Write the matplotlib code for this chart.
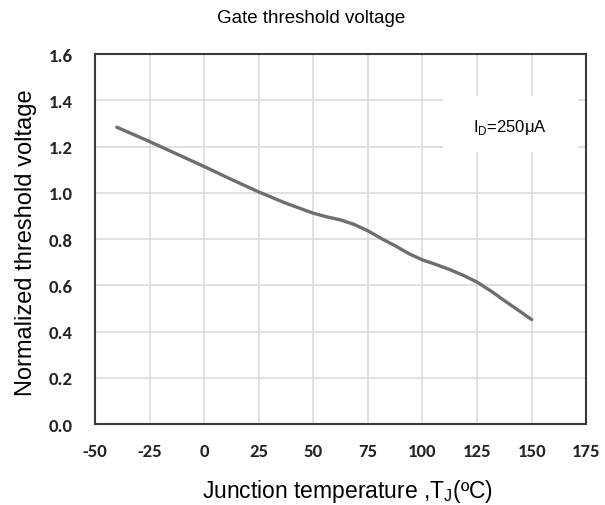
import matplotlib
matplotlib.use("Agg")
import matplotlib.pyplot as plt
from matplotlib.patches import Rectangle

# Data
temperature = [-40, -25, -12.5, 0, 12.5, 25, 37.5, 50, 56.25, 62.5, 68.75, 75, 81.25, 87.5,
               93.75, 100, 106.25, 112.5, 118.75, 125, 131.25, 137.5, 143.75, 150]
norm_vth = [1.284, 1.222, 1.168, 1.114, 1.058, 1.004, 0.955, 0.912, 0.896, 0.883, 0.863,
            0.836, 0.802, 0.771, 0.737, 0.710, 0.690, 0.668, 0.643, 0.614, 0.576, 0.534,
            0.493, 0.452]
x_ticks = [-50, -25, 0, 25, 50, 75, 100, 125, 150, 175]
y_ticks = [0.0, 0.2, 0.4, 0.6, 0.8, 1.0, 1.2, 1.4, 1.6]

fig = plt.figure(figsize=(6.05, 5.06), dpi=100)
ax = fig.add_axes([0.157, 0.160, 0.812, 0.731])

ax.plot(temperature, norm_vth, color="#6e6e6e", lw=2.4, solid_capstyle="round",
        solid_joinstyle="round", zorder=4)

ax.set_xlim(-50, 175)
ax.set_ylim(0, 1.6)
ax.set_xticks(x_ticks)
ax.set_yticks(y_ticks)
ax.set_xticklabels([str(v) for v in x_ticks])
ax.set_yticklabels([f"{v:.1f}" for v in y_ticks])
ax.grid(True, color="#dcdcdc", lw=1.2)
ax.set_axisbelow(True)
ax.tick_params(axis="x", length=0, pad=14)
ax.tick_params(axis="y", length=0, pad=16)

tick_family = ["Carlito", "PT Sans Narrow", "DejaVu Sans"]
for lab in ax.get_xticklabels() + ax.get_yticklabels():
    lab.set_fontfamily(tick_family)
    lab.set_fontweight("bold")
    lab.set_fontsize(13.5)
    lab.set_color("#222222")

for s in ax.spines.values():
    s.set_color("#3a3a3a")
    s.set_linewidth(1.5)

# annotation box covering the grid
ax.add_patch(Rectangle((0.709, 0.735), 0.275, 0.151, transform=ax.transAxes,
                       facecolor="white", edgecolor="none", zorder=2))
ax.text(0.845, 0.805, r"I$_\mathregular{D}$=250μA", transform=ax.transAxes,
        ha="center", va="center", fontsize=12, family="Liberation Sans", zorder=3)

fig.text(0.514, 0.963, "Gate threshold voltage", ha="center", va="center",
         fontsize=13.5, family="Liberation Sans")
fig.text(0.043, 0.52, "Normalized threshold voltage", rotation=90, ha="center", va="center",
         fontsize=17, family="Liberation Sans")
fig.text(0.575, 0.028, r"Junction temperature ,T$_\mathregular{J}$(ºC)", ha="center",
         va="center", fontsize=16.5, family="Liberation Sans")

fig.savefig("out.png", dpi=100)
